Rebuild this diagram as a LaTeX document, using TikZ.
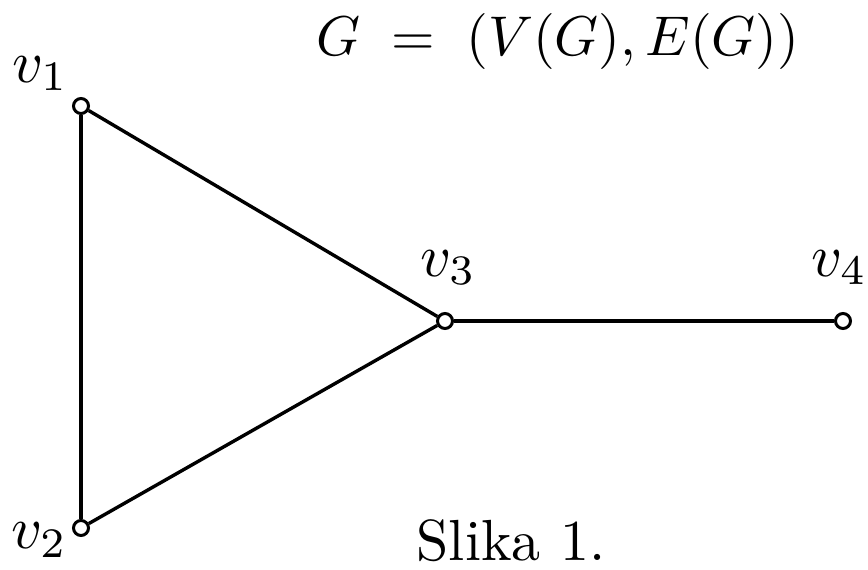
\documentclass[tikz,border=0pt]{standalone}
\usepackage{graphicx}
\begin{document}
\begin{tikzpicture}[x=1pt,y=-1pt,
  vert/.style={circle,draw,line width=3pt,fill=white,inner sep=0pt,minimum size=15pt},
  edge/.style={line width=3.4pt},
  lbl/.style={anchor=base west,inner sep=0pt}]
\useasboundingbox (0,0) rectangle (868,570);
\node[vert] (v1) at (81,106) {};
\node[vert] (v2) at (81,528) {};
\node[vert] (v3) at (445,321) {};
\node[vert] (v4) at (843,321) {};
\draw[edge] (v1) -- (v2);
\draw[edge] (v1) -- (v3);
\draw[edge] (v2) -- (v3);
\draw[edge] (v3) -- (v4);
\node[lbl] (l1) at (12,82) {\scalebox{6}{$v_1$}};
\node[lbl] (l2) at (11,548) {\scalebox{6}{$v_2$}};
\node[lbl] (l3) at (420,276) {\scalebox{6}{$v_3$}};
\node[lbl] (l4) at (811,276) {\scalebox{6}{$v_4$}};
\node[anchor=base,inner sep=0pt] (t) at (558,55) {\scalebox{5.6}{$G\;=\;(V(G),E(G))$}};
\node[anchor=base,inner sep=0pt] (s) at (511,560) {\scalebox{5.8}{Slika 1.}};
\end{tikzpicture}
\end{document}
